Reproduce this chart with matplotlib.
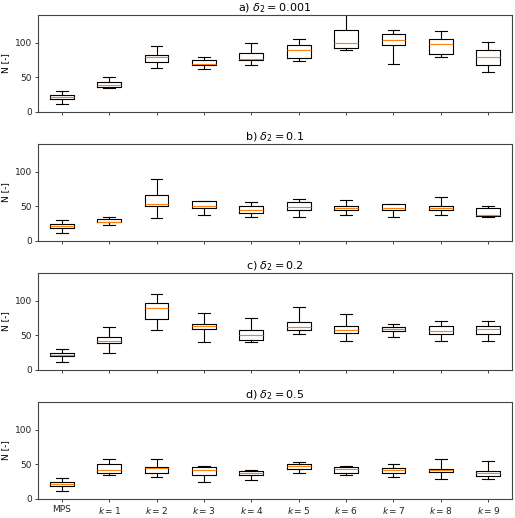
import matplotlib
matplotlib.use('Agg')
import matplotlib.pyplot as plt

# category labels along x
labels = ['MPS'] + [r'$k=%d$' % k for k in range(1, 10)]

# box stats per category: [whisker low, q1, median, q3, whisker high]
stats_a = [[11, 19, 22, 25, 30], [35, 36, 39, 43, 50], [64, 72, 80, 82, 95],
           [62, 68, 70, 75, 79], [68, 75, 77, 85, 100], [73, 78, 90, 96, 105],
           [89, 92, 100, 119, 141], [70, 96, 104, 113, 118], [79, 83, 98, 106, 117],
           [58, 68, 80, 89, 101]]
stats_b = [[11, 19, 22, 25, 30], [23, 27, 28, 31, 34], [33, 50, 54, 67, 90],
           [38, 47, 50, 57, 58], [34, 40, 44, 50, 56], [34, 44, 49, 56, 61],
           [37, 44, 47, 51, 59], [35, 45, 47, 53, 54], [37, 44, 47, 50, 63],
           [34, 36, 37, 47, 50]]
stats_c = [[11, 20, 22, 25, 30], [25, 39, 42, 47, 62], [57, 74, 89, 96, 109],
           [40, 59, 64, 66, 82], [40, 43, 51, 57, 75], [52, 57, 62, 69, 91],
           [42, 53, 58, 64, 80], [48, 56, 59, 62, 66], [42, 52, 56, 64, 71],
           [42, 52, 59, 63, 70]]
stats_d = [[11, 19, 22, 24, 30], [34, 38, 41, 51, 57], [31, 38, 44, 46, 57],
           [24, 34, 41, 46, 47], [27, 34, 37, 40, 42], [38, 43, 48, 50, 53],
           [34, 38, 43, 46, 48], [32, 38, 41, 44, 51], [29, 39, 41, 43, 57],
           [28, 33, 37, 40, 54]]
titles = [r'a) $\delta_2 = 0.001$', r'b) $\delta_2 = 0.1$',
          r'c) $\delta_2 = 0.2$', r'd) $\delta_2 = 0.5$']

plt.rcParams['font.size'] = 6.5
plt.rcParams['axes.linewidth'] = 0.8

fig, axes = plt.subplots(4, 1, figsize=(5.15, 5.18), dpi=100, sharex=True, sharey=True)
fig.subplots_adjust(left=0.074, right=0.994, top=0.971, bottom=0.037, hspace=0.33)

for ax, stats, title in zip(axes, [stats_a, stats_b, stats_c, stats_d], titles):
    bstats = []
    for lo, q1, med, q3, hi in stats:
        bstats.append({'whislo': lo, 'q1': q1, 'med': med, 'q3': q3, 'whishi': hi, 'fliers': []})
    ax.bxp(bstats, positions=range(1, 11), widths=0.5,
           boxprops={'linewidth': 0.8}, whiskerprops={'linewidth': 0.8},
           capprops={'linewidth': 0.8}, medianprops={'color': '#ff7f0e', 'linewidth': 0.8})
    ax.set_title(title, fontsize=8, pad=3)
    ax.set_ylabel('N [-]', labelpad=3)
    ax.set_ylim(0, 140)
    ax.set_yticks([0, 50, 100])
    ax.tick_params(length=2.5, width=0.6, pad=2, colors='#222222')
    for s in ax.spines.values():
        s.set_color('#444444')

axes[-1].set_xticks(range(1, 11))
axes[-1].set_xticklabels(labels)
axes[-1].set_xlim(0.5, 10.5)

plt.savefig('out.png')
